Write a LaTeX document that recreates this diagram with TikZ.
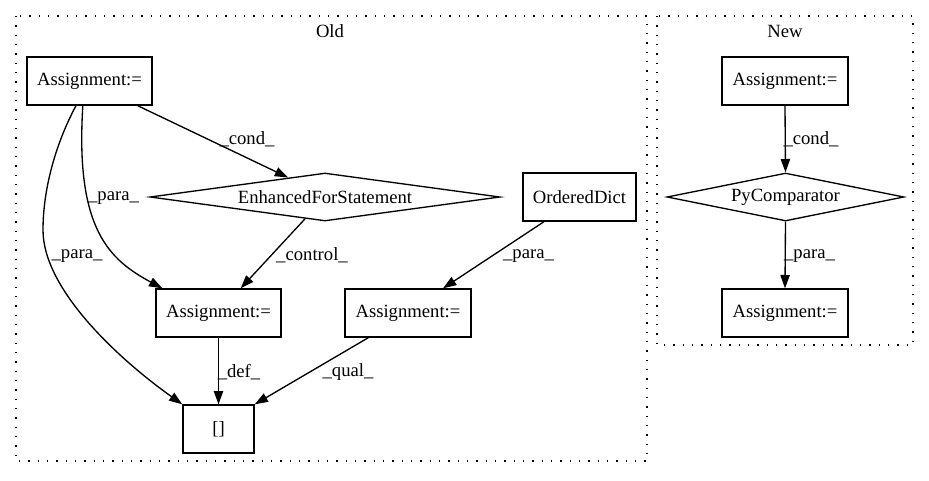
\documentclass[tikz,border=0pt]{standalone}
\usepackage{fontspec}
\setmainfont{Liberation Serif}
\usetikzlibrary{shapes.geometric,arrows.meta,calc}
\begin{document}
\begin{tikzpicture}[x=0.75pt,y=-0.75pt,
  every node/.style={font=\fontsize{14}{16}\selectfont},
  box/.style={draw,line width=1pt,rectangle,inner sep=0pt,minimum height=36pt},
  dmd/.style={draw,line width=1pt,diamond,inner sep=0pt,minimum height=36pt,aspect=7},
  edge/.style={draw,line width=1pt,-{Triangle[length=10pt,width=7pt]}},
  lbl/.style={inner sep=0pt,anchor=center},
  cluster/.style={draw,line width=1pt,dash pattern=on 1pt off 6pt}]
\useasboundingbox (0,0) rectangle (929,480);
% clusters
\draw[cluster] (16,16) rectangle (647,461);
\draw[cluster] (657,16) rectangle (913,345);
\node[lbl] (oldt) at (330,31) {Old};
\node[lbl] (newt) at (785,31) {New};
% old nodes
\node[box,minimum width=93.75pt] (a1) at (89.5,81) {Assignment:=};
\node[dmd,minimum width=262.5pt] (efs) at (325,197) {EnhancedForStatement};
\node[box,minimum width=84.75pt] (od) at (579.5,197) {OrderedDict};
\node[box,minimum width=93.75pt] (a2) at (218.5,313) {Assignment:=};
\node[box,minimum width=94.5pt] (a3) at (408,313) {Assignment:=};
\node[box,minimum width=53.25pt] (br) at (218.5,429) {[]};
% new nodes
\node[box,minimum width=94.5pt] (na) at (785,81) {Assignment:=};
\node[dmd,minimum width=177.75pt] (pc) at (785.5,197) {PyComparator};
\node[box,minimum width=94.5pt] (nb) at (785,313) {Assignment:=};
% old edges
\draw[edge] ([xshift=-11.25pt]a1.south east) -- ($(efs.west)!0.79!(efs.north)$);
\node[lbl] (l1) at (247,139) {\_cond\_};
\draw[edge] ([xshift=-5pt]a1.south) .. controls (75,230) and (110,260) .. ([xshift=5.25pt]a2.north west);
\node[lbl] (l2) at (113.5,198) {\_para\_};
\draw[edge] ([xshift=-10.125pt]a1.south) .. controls (55,145) and (43,190) .. (43,230) .. controls (43,290) and (120,360) .. (br.north west);
\node[lbl] (l3) at (77,256) {\_para\_};
\draw[edge] ($(efs.south)!0.114!(efs.west)$) -- ([xshift=-30.75pt]a2.north east);
\node[lbl] (l4) at (312,255) {\_control\_};
\draw[edge] ([xshift=-26.6pt]od.south) -- ([xshift=26.25pt]a3.north);
\node[lbl] (l5) at (528.5,256) {\_para\_};
\draw[edge] (a2.south) -- (br.north);
\node[lbl] (l6) at (239,372) {\_def\_};
\draw[edge] ([xshift=18pt]a3.south west) -- (br.north east);
\node[lbl] (l7) at (348,372) {\_qual\_};
% new edges
\draw[edge] (na.south) -- (pc.north);
\node[lbl] (l8) at (811,139) {\_cond\_};
\draw[edge] (pc.south) -- (nb.north);
\node[lbl] (l9) at (809.5,256) {\_para\_};
\end{tikzpicture}
\end{document}
